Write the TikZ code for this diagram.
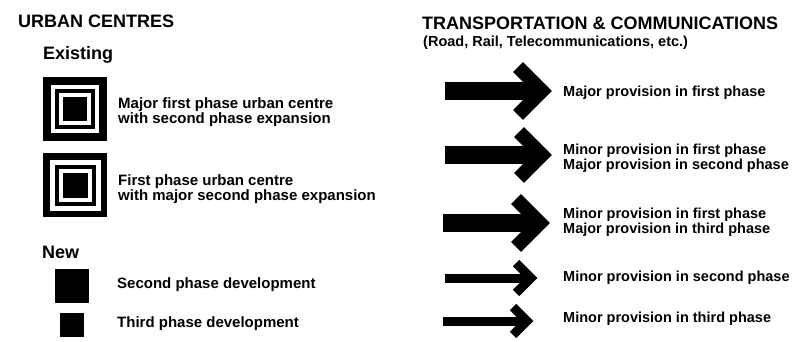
\documentclass[tikz,border=0pt]{standalone}
\usepackage{fontspec}
\setmainfont{Liberation Sans}
\usetikzlibrary{positioning}

\begin{document}
\begin{tikzpicture}[x=1pt,y=-1pt]
		\tikzset{heading/.style = {anchor=base west, inner sep=0pt, font=\fontsize{18}{18}\selectfont\bfseries},
			subhead/.style = {anchor=base west, inner sep=0pt, font=\fontsize{14.5}{15}\selectfont\bfseries},
			legtext/.style = {anchor=west, align=left, inner sep=0pt, font=\fontsize{15}{15}\selectfont\bfseries},
			provtext/.style = {anchor=west, align=left, inner sep=0pt, font=\fontsize{14.5}{15}\selectfont\bfseries},
			sq/.style = {shape=rectangle, minimum size=#1, inner sep=0pt, outer sep=0pt},
			shaftbig/.style = {line width=18pt},
			headbig/.style = {line width=14pt, line join=miter},
			shaftsmall/.style = {line width=9pt},
			headsmall/.style = {line width=9pt, line join=miter}}
		\useasboundingbox (0,0) rectangle (810,342);
		
		% urban centres
		\node[heading] (UC) at (18,28) {URBAN CENTRES};
		\node[heading] (EX) at (43,60) {Existing};
		
		\node[sq=64, fill=black] (B1) at (75,109) {};
		\node[sq=48, fill=white] (B1b) at (B1) {};
		\node[sq=40, fill=black] (B1c) at (B1) {};
		\node[sq=32, fill=white] (B1d) at (B1) {};
		\node[sq=24, fill=black] (B1e) at (B1) {};
		\node[legtext] (T1) at (118,112)
		{Major first phase urban centre\\
			with second phase expansion};
		
		\node[sq=64, fill=black] (B2) at (75,185) {};
		\node[sq=51, fill=white] (B2b) at (B2) {};
		\node[sq=41, fill=black] (B2c) at (B2) {};
		\node[sq=33, fill=white] (B2d) at (B2) {};
		\node[sq=25, fill=black] (B2e) at (B2) {};
		\node[legtext] (T2) at (118,189)
		{First phase urban centre\\
			with major second phase expansion};
		
		\node[heading] (NW) at (42,258) {New};
		\node[sq=34, fill=black] (N2) at (72,286) {};
		\node[legtext] (T3) at (117,285) {Second phase development};
		\node[sq=24, fill=black] (N3) at (72,325) {};
		\node[legtext] (T4) at (117,324) {Third phase development};
		
		% transportation
		\node[heading] (TC) at (422,30) {TRANSPORTATION \& COMMUNICATIONS};
		\node[subhead] (RR) at (423,47) {(Road, Rail, Telecommunications, etc.)};
		
		\coordinate (A1s) at (445,91);
		\coordinate (A1) at (542,91);
		\draw[shaftbig] (A1s) -- (A1);
		\draw[headbig] ([shift={(-24,-24)}]A1) -- (A1) -- ([shift={(-24,24)}]A1);
		\node[provtext] (P1) at (563,93) {Major provision in first phase};
		
		\coordinate (A2s) at (445,155);
		\coordinate (A2) at (542,155);
		\draw[shaftbig] (A2s) -- (A2);
		\draw[headbig] ([shift={(-23,-23)}]A2) -- (A2) -- ([shift={(-23,23)}]A2);
		\node[provtext] (P2) at (563,158)
		{Minor provision in first phase\\
			Major provision in second phase};
		
		\coordinate (A3s) at (443,223);
		\coordinate (A3) at (540,223);
		\draw[shaftbig] (A3s) -- (A3);
		\draw[headbig] ([shift={(-24,-24)}]A3) -- (A3) -- ([shift={(-24,24)}]A3);
		\node[provtext] (P3) at (563,222)
		{Minor provision in first phase\\
			Major provision in third phase};
		
		\coordinate (A4s) at (445,278);
		\coordinate (A4) at (531,278);
		\draw[shaftsmall] (A4s) -- (A4);
		\draw[headsmall] ([shift={(-15,-15)}]A4) -- (A4) -- ([shift={(-15,15)}]A4);
		\node[provtext] (P4) at (563,278) {Minor provision in second phase};
		
		\coordinate (A5s) at (443,321);
		\coordinate (A5) at (527,321);
		\draw[shaftsmall] (A5s) -- (A5);
		\draw[headsmall] ([shift={(-14,-14)}]A5) -- (A5) -- ([shift={(-14,14)}]A5);
		\node[provtext] (P5) at (563,319) {Minor provision in third phase};
		
\end{tikzpicture}
\end{document}
